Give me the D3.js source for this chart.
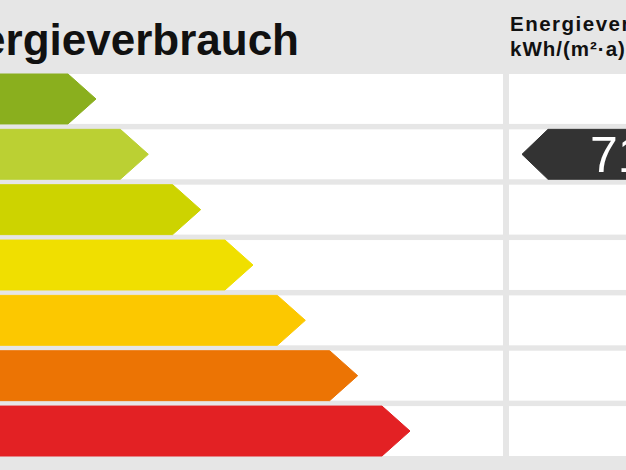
<!DOCTYPE html>
<html>
<head>
<meta charset="utf-8">
<script src="https://cdn.jsdelivr.net/npm/d3@7/dist/d3.min.js"></script>
<style>
html,body{margin:0;padding:0;background:#e6e6e6;overflow:hidden;}
svg{display:block;font-family:"Liberation Sans",Arial,sans-serif;}
</style>
</head>
<body>
<svg id="chart" width="626" height="470"></svg>
<script>
// Data
const classes = ["A","B","C","D","E","F","G"];
const classColors = ["#8aaf1e","#bbd033","#cdd300","#f0df00","#fcc800","#ec7404","#e32124"];
const classRank = [1,2,3,4,5,6,7];               // bar length rank
const classUpper = [50,75,100,130,160,200,250];  // kWh/(m²·a) upper bounds
const value = 71;
const valueLabel = "71";
const title = "Energieverbrauch";
const colHeader = ["Energieverbrauch", "kWh/(m²·a)"];

const svg = d3.select("#chart");
const W = 626, H = 470;

svg.append("rect").attr("width", W).attr("height", H).attr("fill", "#e6e6e6");

const y = d3.scaleBand().domain(classes).range([74, 456]).paddingInner(0.098).paddingOuter(0);
const x = d3.scaleLinear().domain([1, 7]).range([96, 410]);
const tipInset = 28;

// row cells
const rows = svg.append("g");
classes.forEach((c) => {
  rows.append("rect").attr("x", -2).attr("y", y(c)).attr("width", 505).attr("height", y.bandwidth()).attr("fill", "#ffffff");
  rows.append("rect").attr("x", 509).attr("y", y(c)).attr("width", W - 509 + 2).attr("height", y.bandwidth()).attr("fill", "#ffffff");
});

// bars
const bars = svg.append("g");
classes.forEach((c, i) => {
  const y0 = y(c), h = y.bandwidth(), t = x(classRank[i]);
  const p = d3.path();
  p.moveTo(-10, y0);
  p.lineTo(t - tipInset, y0);
  p.lineTo(t, y0 + h / 2);
  p.lineTo(t - tipInset, y0 + h);
  p.lineTo(-10, y0 + h);
  p.closePath();
  bars.append("path").attr("d", p.toString()).attr("fill", classColors[i])
    .attr("stroke", classColors[i]).attr("stroke-width", 1).attr("stroke-linejoin", "round");
});

// header
svg.append("text").attr("x", 299).attr("y", 55).attr("text-anchor", "end")
  .attr("font-size", 44).attr("font-weight", "bold").attr("fill", "#111").text(title);
svg.append("text").attr("x", 510).attr("y", 30.5).attr("font-size", 20.5).attr("letter-spacing", 1.5)
  .attr("font-weight", "bold").attr("fill", "#111").text(colHeader[0]);
svg.append("text").attr("x", 510).attr("y", 56).attr("font-size", 20.5).attr("letter-spacing", 1.0)
  .attr("font-weight", "bold").attr("fill", "#111").text(colHeader[1]);

// indicator
const cls = d3.scaleThreshold().domain(classUpper.slice(0, -1)).range(classes);
const vc = cls(value);
const iy = y(vc), ih = y.bandwidth();
const ip = d3.path();
ip.moveTo(W + 10, iy);
ip.lineTo(548, iy);
ip.lineTo(522, iy + ih / 2);
ip.lineTo(548, iy + ih);
ip.lineTo(W + 10, iy + ih);
ip.closePath();
svg.append("path").attr("d", ip.toString()).attr("fill", "#333333").attr("stroke", "#333333").attr("stroke-width", 1).attr("stroke-linejoin", "round");
svg.append("text").attr("x", 590).attr("y", iy + 43).attr("font-size", 50).attr("fill", "#ffffff").text(valueLabel);
</script>
</body>
</html>
